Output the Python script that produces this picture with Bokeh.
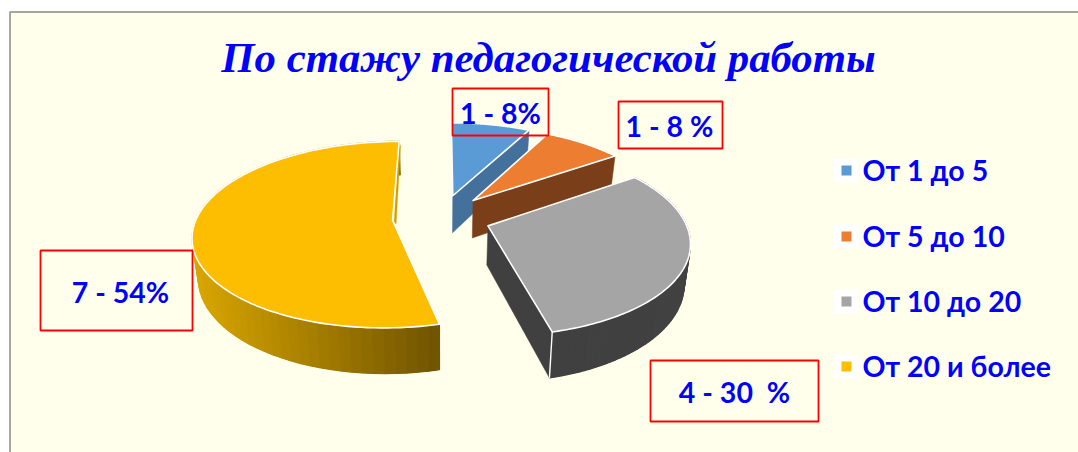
import numpy as np
from bokeh.plotting import figure
from bokeh.models import Range1d
from bokeh.core.properties import value
from bokeh.embed import file_html
from bokeh.resources import INLINE

# ---------- data ----------
title_text = "По стажу педагогической работы"
categories = ["От 1 до 5", "От 5 до 10", "От 10 до 20", "От 20 и более"]
counts = [1, 1, 4, 7]
slice_labels = ["1 - 8%", "1 - 8 %", "4 - 30\u00a0\u00a0%", "7 - 54%"]

# ---------- styles ----------
top_colors = ["#5b9bd5", "#ed7d31", "#a5a5a5", "#fdbd00"]
wall_colors = ["#44719b", "#7a3f18", "#404040", "#d0a000"]
BLUE = "#0000ff"
RED = "#ff0000"
PANEL = "#ffffec"

# ---------- projection of the 3-D pie ----------
VX, VY = 441.0, 217.0      # pie centre on screen
AX, BY = 196.0, 90.2       # radius on x and on y
PERSP = 0.153              # perspective strength
EX_X, EX_Y = 0.25, 0.258   # explosion of each slice
DEPTH = 38.5               # thickness
SHRINK = 0.025             # the lower face lies further away


def project(X, Y, z=0.0):
    w = 1 - PERSP * Y
    return VX + AX * X / w * (1 - SHRINK * z), VY + (BY * Y + z * DEPTH) / w


total = sum(counts)
edges = np.cumsum([0] + counts) / total * 2 * np.pi

p = figure(width=1078, height=452, output_backend="svg", toolbar_location=None,
           x_range=Range1d(0, 1078), y_range=Range1d(452, 0),
           x_axis_location=None, y_axis_location=None, min_border=0,
           background_fill_color="#ffffff", border_fill_color="#ffffff",
           outline_line_color=None)
p.grid.visible = False

# panel
p.quad(left=[9.5], right=[1090], top=[11.5], bottom=[470], fill_color=PANEL,
       line_color="#a8a69c", line_width=2)


def lerp_color(c0, c1, t):
    a = np.array([int(c0[i:i + 2], 16) for i in (1, 3, 5)], float)
    b = np.array([int(c1[i:i + 2], 16) for i in (1, 3, 5)], float)
    v = (a + (b - a) * t).round().astype(int)
    return "#%02x%02x%02x" % tuple(v)


def slice_geometry(i, n=120):
    t0, t1 = edges[i], edges[i + 1]
    mid = (t0 + t1) / 2
    ox, oy = EX_X * np.sin(mid), -EX_Y * np.cos(mid)
    th = np.linspace(t0, t1, n)
    return ox, oy, th, ox + np.sin(th), oy - np.cos(th)


def radial_wall(i, angle):
    ox, oy, *_ = slice_geometry(i)
    X1, Y1 = ox + np.sin(angle), oy - np.cos(angle)
    a = project(ox, oy), project(X1, Y1), project(X1, Y1, 1), project(ox, oy, 1)
    p.patch([q[0] for q in a], [q[1] for q in a], fill_color=wall_colors[i],
            line_color=wall_colors[i], line_width=0.5)


def rim_wall(i, c_left, c_right):
    _, _, _, X, Y = slice_geometry(i, 70)
    xt, yt = project(X, Y)
    xb, yb = project(X, Y, 1)
    xs, ys, cs = [], [], []
    lo, hi = xt.min(), xt.max()
    for k in range(len(X) - 1):
        xs.append([xt[k], xt[k + 1], xb[k + 1], xb[k]])
        ys.append([yt[k], yt[k + 1], yb[k + 1], yb[k]])
        f = ((xt[k] + xt[k + 1]) / 2 - lo) / (hi - lo)
        cs.append(lerp_color(c_left, c_right, f))
    # a first solid pass hides the seams between the strips
    p.patch(np.r_[xt, xb[::-1]], np.r_[yt, yb[::-1]], fill_color=lerp_color(c_left, c_right, 0.5),
            line_color=None)
    p.patches(xs, ys, fill_color=cs, line_color=cs, line_width=1.2)


def top_face(i):
    ox, oy, _, X, Y = slice_geometry(i)
    x, y = project(np.r_[ox, X], np.r_[oy, Y])
    p.patch(x, y, fill_color=top_colors[i], line_color="#ffffff",
            line_width=1.6, line_join="round")


# blue
radial_wall(0, edges[1])
top_face(0)
# orange
radial_wall(1, edges[2])
top_face(1)
# grey
radial_wall(2, edges[3])
rim_wall(2, "#404040", "#424242")
top_face(2)
ox, oy, *_ = slice_geometry(2)
Xe, Ye = ox + np.sin(edges[3]), oy - np.cos(edges[3])
gx0, gy0 = project(Xe, Ye)
gx1, gy1 = project(Xe, Ye, 1)
p.line([gx0, gx1], [gy0, gy1], line_color="#ffffff", line_width=1.4)
# yellow
rim_wall(3, "#d9a600", "#6f5300")
ox, oy, *_ = slice_geometry(3)
rx, ry = project(ox + np.sin(edges[4]), oy - np.cos(edges[4]))
ax_, ay_ = project(ox, oy)
p.patch([rx, rx + 1.5, ax_ + 3.5, ax_ + 1.5], [ry, ry + 5, ay_ + 4, ay_ + 1],
        fill_color="#d0a000", line_color="#d0a000", line_width=0.3)
top_face(3)

# title
p.text([548], [57], text=[title_text], text_font=value("Liberation Serif"),
       text_font_size="42.8px", text_font_style="bold italic", text_color=BLUE,
       text_align="center", text_baseline="middle")

# data-label boxes
box_l = [452, 618, 650, 40]
box_r = [548, 722, 818, 192]
box_t = [88, 101, 360, 250]
box_b = [135, 148, 421, 330]
p.quad(left=box_l, right=box_r, top=box_t, bottom=box_b, fill_color=None,
       line_color=RED, line_width=1.8)
label_x = [500, 669, 734, 120]
label_y = [112, 125, 391, 291]
p.text(label_x, label_y, text=slice_labels, text_font=value("Lato"),
       text_font_size="28.5px", text_font_style="bold", text_color=BLUE,
       text_align="center", text_baseline="middle")

# legend
leg_y = [169, 235, 300, 365]
mark_y = [170, 236, 301, 366]
p.quad(left=[833] * 4, right=[858] * 4, top=[y - 12 for y in mark_y],
       bottom=[y + 12 for y in mark_y], fill_color="#ffffff", line_color=None)
p.quad(left=[841] * 4, right=[851] * 4, top=[y - 5 for y in mark_y],
       bottom=[y + 5 for y in mark_y], fill_color=top_colors, line_color=None)
p.text([862] * 4, leg_y, text=categories, text_font=value("Lato"),
       text_font_size="28.5px", text_font_style="bold", text_color=BLUE,
       text_align="left", text_baseline="middle")

open("out.html", "w").write(file_html(p, INLINE))
